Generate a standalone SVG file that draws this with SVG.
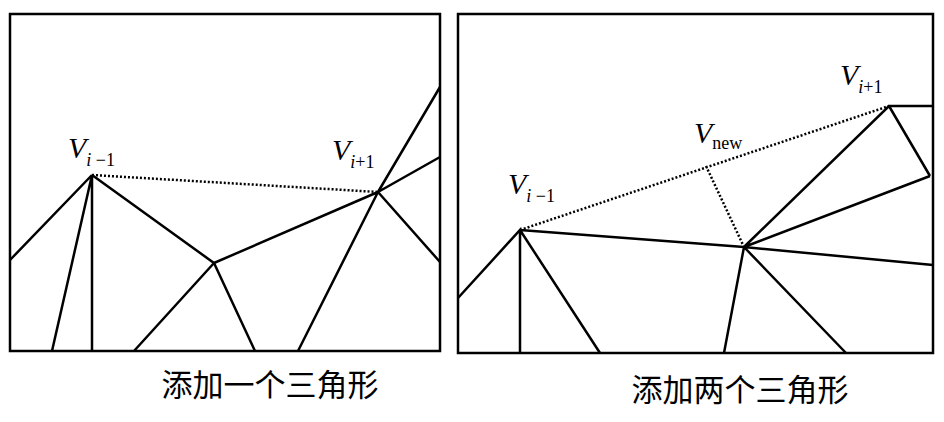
<svg xmlns="http://www.w3.org/2000/svg" width="944" height="422" viewBox="0 0 944 422">
<style>
.fr{fill:none;stroke:#000;stroke-width:2.5}
.e{stroke:#000;stroke-width:2.5;fill:none}
.d{stroke:#000;stroke-width:2.5;stroke-dasharray:2 2;fill:none}
.v{font-family:"Liberation Serif",serif;font-style:italic;font-size:30px}
.s{font-family:"Liberation Serif",serif;font-style:normal;font-size:18px}
.si{font-family:"Liberation Serif",serif;font-style:italic;font-size:18px}
.c{font-family:"Liberation Serif","Noto Sans CJK SC",serif;font-size:31px}
</style>
<rect width="944" height="422" fill="#fff"/>
<g id="panel-left">
<rect class="fr" x="10" y="14" width="430" height="337"/>
<text class="v" x="68" y="158">V<tspan class="si" dy="8">i</tspan><tspan class="s"> −1</tspan></text>
<text class="v" x="332" y="160">V<tspan class="si" dy="8">i</tspan><tspan class="s">+1</tspan></text>
<text class="c" x="270" y="396" text-anchor="middle">添加一个三角形</text>
</g>
<g id="panel-right">
<rect class="fr" x="458" y="14" width="475" height="339"/>
<text class="v" x="508" y="194">V<tspan class="si" dy="8">i</tspan><tspan class="s"> −1</tspan></text>
<text class="v" x="694" y="143">V<tspan class="s" dy="6">new</tspan></text>
<text class="v" x="840" y="85">V<tspan class="si" dy="8">i</tspan><tspan class="s">+1</tspan></text>
<text class="c" x="740" y="401" text-anchor="middle">添加两个三角形</text>
</g>
<g id="connectors">
<path class="e" d="M10 260L92 175M52 351L92 175M92 175V351M92 175L214 263L378 192M214 263L134 351M214 263L255 351M378 192L298 351M378 192L440 87M378 192L440 157M378 192L440 262"/>
<path class="d" d="M92 175L378 192"/>
<path class="e" d="M458 298L520 230V353M520 230L600 353M520 230L744 247L933 265M744 247L724 353M744 247L846 353M744 247L889 106H933M744 247L930 176M889 106L930 176"/>
<path class="d" d="M520 230L889 106M706 166L744 247"/>
</g>
</svg>
